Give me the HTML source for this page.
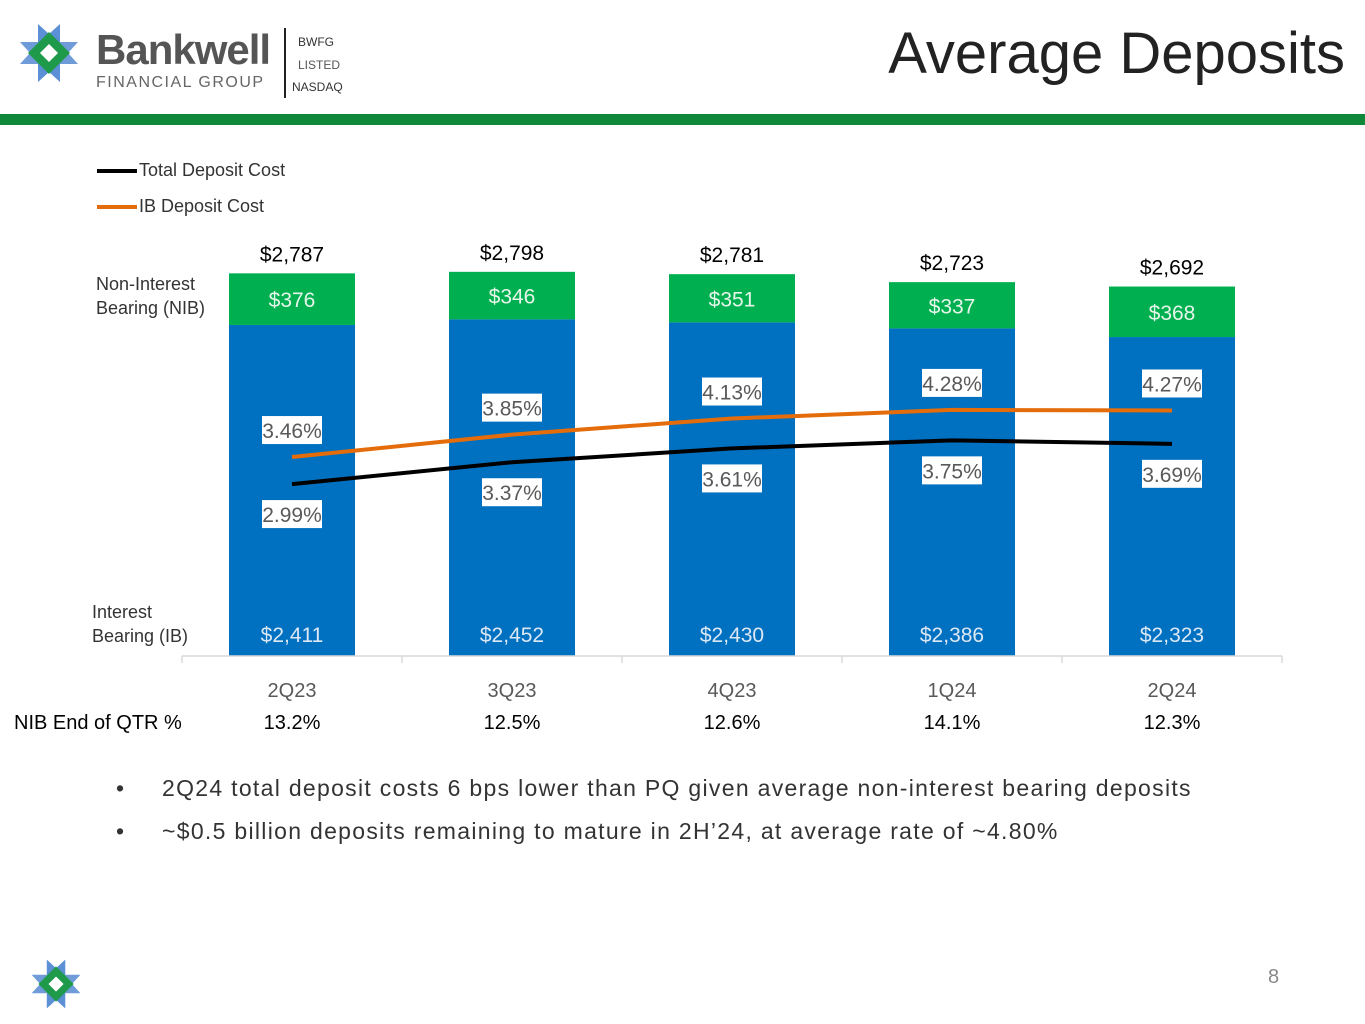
<!DOCTYPE html>
<html><head><meta charset="utf-8"><style>
body{margin:0;width:1365px;height:1024px;background:#fff;font-family:"Liberation Sans",sans-serif;overflow:hidden;position:relative}
.t{position:absolute;white-space:nowrap}
</style></head><body>
<div>
<svg class="t" style="left:18px;top:22px" width="62" height="62">
<path d="M2,20 L20,20 L31,31 L20,42 L2,42 L12,31Z" fill="#6f9bd8"/><path d="M60,20 L42,20 L31,31 L42,42 L60,42 L50,31Z" fill="#6f9bd8"/>
<path d="M20,2 L20,20 L31,31 L42,20 L42,2 L31,12Z" fill="#5b8fd6"/><path d="M20,60 L20,42 L31,31 L42,42 L42,60 L31,50Z" fill="#5b8fd6"/>
<path d="M31,10 L52,31 L31,52 L10,31Z" fill="#1f9a4a"/><path d="M31,22 L40,31 L31,40 L22,31Z" fill="#fff"/></svg>
<div class="t" style="left:96px;top:26px;font-size:42px;font-weight:bold;color:#555;letter-spacing:-1px">Bankwell</div>
<div class="t" style="left:96px;top:74px;font-size:16px;color:#666;letter-spacing:1.5px">FINANCIAL GROUP</div>
<div class="t" style="left:284px;top:28px;width:2px;height:70px;background:#222"></div>
<div class="t" style="left:298px;top:35px;font-size:12px;color:#333">BWFG</div>
<div class="t" style="left:298px;top:58px;font-size:12px;color:#555">LISTED</div>
<div class="t" style="left:292px;top:80px;font-size:12px;color:#333">NASDAQ</div>
<div class="t" style="right:20px;top:20px;font-size:58px;color:#222">Average Deposits</div>
<div class="t" style="left:0;top:114px;width:1365px;height:11px;background:#10883a"></div>
</div>
<svg id="chart" class="t" style="left:0;top:0" width="1365" height="760"></svg>
<div class="t" style="left:116px;top:775px;font-size:23px;color:#333">•</div>
<div class="t" style="left:162px;top:775px;font-size:23px;color:#333;letter-spacing:1.3px">2Q24 total deposit costs 6 bps lower than PQ given average non-interest bearing deposits</div>
<div class="t" style="left:116px;top:818px;font-size:23px;color:#333">•</div>
<div class="t" style="left:162px;top:818px;font-size:23px;color:#333;letter-spacing:1.3px">~$0.5 billion deposits remaining to mature in 2H’24, at average rate of ~4.80%</div>
<svg class="t" style="left:30px;top:958px" width="52" height="52">
<g transform="scale(0.84)"><path d="M2,20 L20,20 L31,31 L20,42 L2,42 L12,31Z" fill="#6f9bd8"/><path d="M60,20 L42,20 L31,31 L42,42 L60,42 L50,31Z" fill="#6f9bd8"/>
<path d="M20,2 L20,20 L31,31 L42,20 L42,2 L31,12Z" fill="#5b8fd6"/><path d="M20,60 L20,42 L31,31 L42,42 L42,60 L31,50Z" fill="#5b8fd6"/>
<path d="M31,10 L52,31 L31,52 L10,31Z" fill="#1f9a4a"/><path d="M31,22 L40,31 L31,40 L22,31Z" fill="#fff"/></g></svg>
<div class="t" style="left:1268px;top:966px;font-size:20px;color:#888">8</div>
<script>
const categories=["2Q23","3Q23","4Q23","1Q24","2Q24"];
const ibValues=[2411,2452,2430,2386,2323];
const nibValues=[376,346,351,337,368];
const totals=[2787,2798,2781,2723,2692];
const totalCost=[2.99,3.37,3.61,3.75,3.69];
const ibCost=[3.46,3.85,4.13,4.28,4.27];
const nibPct=["13.2%","12.5%","12.6%","14.1%","12.3%"];
const svg=document.getElementById('chart');const NS="http://www.w3.org/2000/svg";
const base=656,x0=182,step=220,bw=126;
const yD=v=>base-v*0.1373;const yP=v=>base-v*57.5;const xc=i=>x0+step*i+step/2;
function el(t,a,txt){const e=document.createElementNS(NS,t);for(const k in a)e.setAttribute(k,a[k]);if(txt!=null)e.textContent=txt;svg.appendChild(e);return e;}
function tx(x,y,s,size,fill,anchor,weight){return el('text',{x:x,y:y,'font-size':size,fill:fill,'text-anchor':anchor||'middle','font-weight':weight||'normal','font-family':'Liberation Sans, sans-serif'},s);}
categories.forEach((c,i)=>{
 const ib=el('rect',{x:xc(i)-bw/2,y:yD(ibValues[i]),width:bw,height:base-yD(ibValues[i]),fill:'#0070c0'});
 
 const top=yD(ibValues[i]+nibValues[i]);
 const nb=el('rect',{x:xc(i)-bw/2,y:top,width:bw,height:yD(ibValues[i])-top,fill:'#00b050'});
 
 tx(xc(i),(top+yD(ibValues[i]))/2+8,'$'+nibValues[i],21,'#e6f5ea');
 tx(xc(i),642,'$'+ibValues[i].toLocaleString('en-US'),21,'#dde8f5');
 const tl=tx(xc(i),yD(totals[i])-12,'$'+totals[i].toLocaleString('en-US'),21,'#000','middle');
 
 tx(xc(i),697,c,20,'#595959');
 tx(xc(i),729,nibPct[i],20,'#000');
});
el('line',{x1:x0,y1:base,x2:x0+step*5,y2:base,stroke:'#d9d9d9','stroke-width':1.5});
for(let i=0;i<=5;i++)el('line',{x1:x0+step*i,y1:base,x2:x0+step*i,y2:base+7,stroke:'#d9d9d9','stroke-width':1.5});
function line(vals,col,name,dy){
 const p=el('polyline',{points:vals.map((v,i)=>xc(i)+','+yP(v)).join(' '),fill:'none',stroke:col,'stroke-width':4});
 
 vals.forEach((v,i)=>{const y=yP(v)+dy;el('rect',{x:xc(i)-30,y:y-14,width:60,height:28,fill:'#fff'});tx(xc(i),y+8,v.toFixed(2)+'%',21,'#595959');});
}
line(ibCost,'#e46c0a','line-ib-cost',-27);
line(totalCost,'#000','line-total-cost',30);
el('line',{x1:97,y1:171,x2:137,y2:171,stroke:'#000','stroke-width':4});
tx(139,176,'Total Deposit Cost',18,'#333','start');
el('line',{x1:97,y1:207,x2:137,y2:207,stroke:'#e46c0a','stroke-width':4});
tx(139,212,'IB Deposit Cost',18,'#333','start');
tx(96,290,'Non-Interest',18,'#333','start');tx(96,314,'Bearing (NIB)',18,'#333','start');
tx(92,618,'Interest',18,'#333','start');tx(92,642,'Bearing (IB)',18,'#333','start');
tx(14,729,'NIB End of QTR %',20,'#000','start');
</script>
</body></html>
